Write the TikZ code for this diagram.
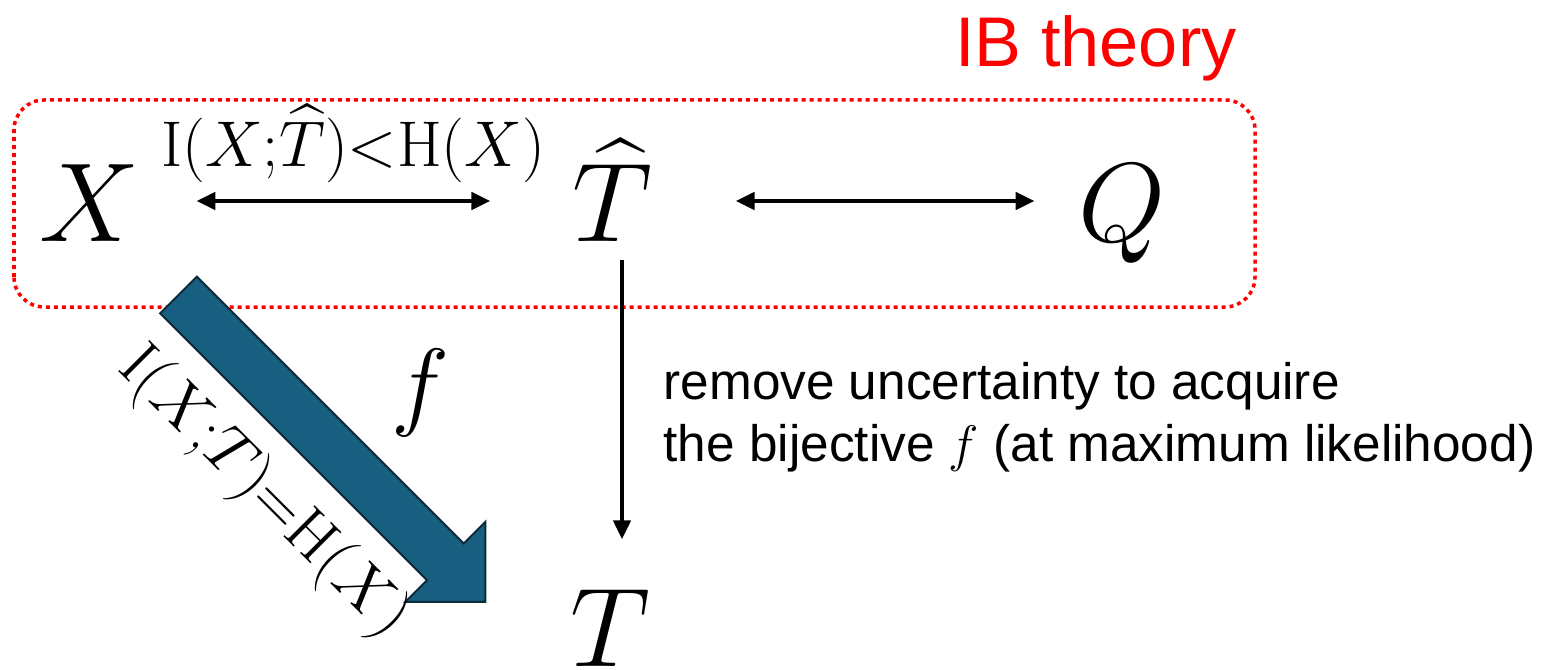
\documentclass[tikz,border=0pt]{standalone}
\usepackage{fix-cm}
\usepackage{amsmath}
\usepackage[no-math]{fontspec}
\usepackage{tikz}
\usepackage{xcolor}
\usetikzlibrary{arrows.meta}

\newfontfamily\labelfont{Liberation Sans}
\definecolor{ibred}{RGB}{255,0,0}
\definecolor{fblue}{RGB}{23,94,128}
\definecolor{fedge}{RGB}{12,42,58}

\begin{document}
\begin{tikzpicture}[
    var/.style={inner sep=0pt, text height=0.77cm, text depth=0pt, font=\fontsize{32}{36}\selectfont},
    info/.style={inner sep=0pt, font=\fontsize{18.4}{22}\selectfont},
    arrow/.style={-{Triangle[length=0.19cm, width=0.17cm]}, line width=0.045cm},
    biarrow/.style={{Triangle[length=0.19cm, width=0.17cm]}-{Triangle[length=0.19cm, width=0.17cm]}, line width=0.045cm},
    ibframe/.style={draw=ibred, line width=0.035cm, dash pattern=on 0.04cm off 0.04cm, rounded corners=0.3cm},
    fblock/.style={fill=fblue, draw=fedge, line width=0.02cm}
]
\useasboundingbox (0,0) rectangle (15.43,6.69);

% IB frame
\draw[ibframe] (0.14,3.62) rectangle (12.55,5.69);
\node[inner sep=0pt, anchor=base, text=ibred, font=\labelfont\fontsize{20}{24}\selectfont] (ibtitle) at (10.96,6.03) {IB theory};

% Variables
\node[var] (X) at (0.90,4.66) {$X$};
\node[var] (That) at (6.12,4.66) {$\widehat{T}$};
\node[var] (Q) at (11.22,4.66) {$Q$};
\node[var] (T) at (6.10,0.41) {$T$};

% Connections
\draw[biarrow] ([xshift=0.555cm, yshift=0.02cm]X.east) -- ([xshift=-0.81cm, yshift=0.02cm]That.west)
    node[midway, above=0.16cm, xshift=0.1cm, info] (mihat) {$\mathrm{I}(X{;}\widehat{T}){<}\mathrm{H}(X)$};
\draw[biarrow] ([xshift=0.83cm, yshift=0.02cm]That.east) -- ([xshift=-0.43cm, yshift=0.02cm]Q.west);
\coordinate (tdrop) at ([xshift=0.1cm]That.south);
\draw[arrow, shorten <=0.18cm, shorten >=0.495cm] (tdrop) -- (tdrop |- T.north);

% Block arrow f
\coordinate (ftail) at (1.785,3.74);
\begin{scope}[shift={(ftail)}, rotate=-45]
  \filldraw[fblock] (0,0.26) -- (3.774,0.26) -- (3.774,0.565) -- (4.34,0) -- (3.774,-0.565) -- (3.774,-0.26) -- (0,-0.26) -- cycle;
\end{scope}
\node[info, rotate=-45] (mifull) at (2.63,1.76) {$\mathrm{I}(X{;}T){=}\mathrm{H}(X)$};
\node[inner sep=0pt, font=\fontsize{28}{32}\selectfont] (fmap) at (4.20,2.76) {$f$};

% Note
\node[inner sep=0pt, anchor=base west, align=left, font=\labelfont\fontsize{14.6}{17.6}\selectfont] (note) at (6.63,2.08)
    {remove uncertainty to acquire\\the bijective $f$ (at maximum likelihood)};

\end{tikzpicture}
\end{document}
